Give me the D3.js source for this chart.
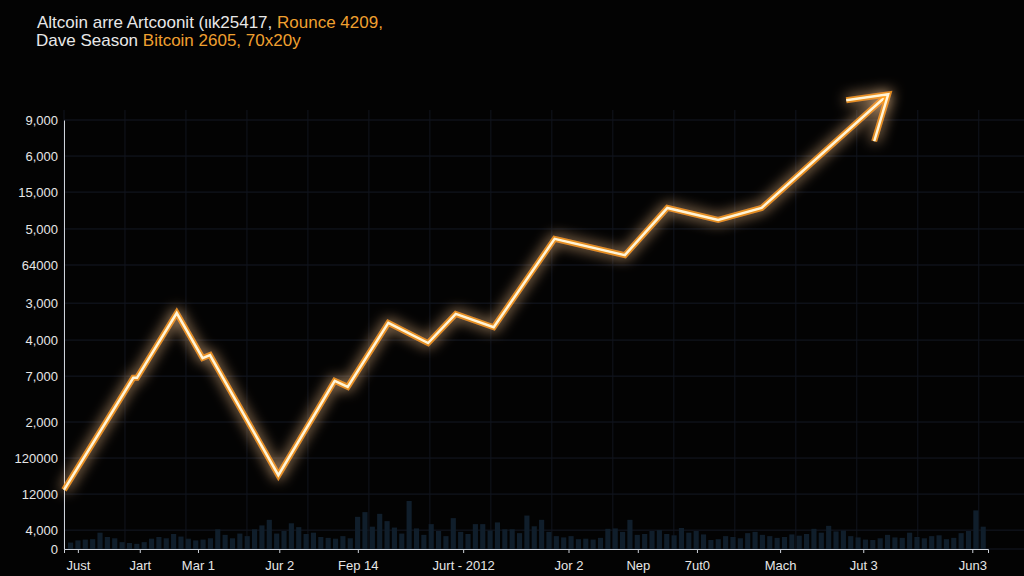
<!DOCTYPE html>
<html><head><meta charset="utf-8">
<script src="https://cdn.jsdelivr.net/npm/d3@7"></script>
<style>body{margin:0;background:#030303;}svg{display:block;font-family:"Liberation Sans",Arial,sans-serif;}</style>
</head><body><svg id="c" width="1024" height="576"></svg>
<script>
// y tick labels (as shown) and their positions in index units
const yLabels = ['9,000','6,000','15,000','5,000','64000','3,000','4,000','7,000','2,000','120000','12000','4,000','0'];
const yTicks = [100,91.6,83.2,74.6,66.2,57.3,48.7,40.3,29.6,21.2,12.8,4.4,0];
// x tick labels and positions
const xLabels = ['Just','Jart','Mar 1','Jur 2','Fep 14','Jurt - 2012','Jor 2','Nep','7ut0','Mach','Jut 3','Jun3'];
const xTicks = [1.5,8.2,14.5,23.3,31.8,43.2,54.6,62.1,68.5,77.5,86.5,98.3];
// price line
const lineX = [0,7.5,7.9,12.2,15.0,15.8,23.2,29.3,30.7,35.1,39.4,42.4,46.5,53.1,60.7,65.3,70.8,75.5,89.2];
const lineY = [13.8,39.9,39.9,55.0,44.5,45.2,17.2,39.2,37.8,52.7,48.0,54.8,51.7,72.3,68.5,79.5,76.7,79.5,106];
// volume bars
const vol = [1.5,2,2.2,2.3,3.8,2.8,2.5,1.6,1.4,1.2,1.6,2.4,2.8,2.5,3.5,2.9,2.4,2,2.2,2.5,4.6,3.3,2.5,3.6,3,4.6,5.5,6.8,3.6,4.2,6,5.1,3.5,3.8,2.8,2.6,2.4,3,2.5,7.5,8.6,5.2,8.2,6.5,5,3.6,11.2,4.8,3.3,5.8,4.2,3,7.2,4,3.5,5.8,5.8,4.3,6.2,4.6,4.6,3.7,7.8,5.3,6.8,4,3,2.7,3,2.3,2.4,2.2,2.6,4.7,4.8,4,6.8,3.3,3.5,4.2,4.4,3.5,3.2,4.9,3.8,4.2,3.4,2.1,2.3,3,2.8,2.5,3.7,4,3.3,3,2.6,2.8,3.4,3.1,3.5,4.7,3.8,5.4,4.1,4.3,3,2.7,2.2,2.1,2.5,3.3,2.7,2.6,3.8,2.8,2.5,3,3.2,2.3,2.6,3.7,4.2,9,5.2];

const svg = d3.select('#c');
const x = d3.scaleLinear().domain([0,100]).range([64,988]);
const y = d3.scaleLinear().domain([0,100]).range([549,120]);

const defs = svg.append('defs');
const f = defs.append('filter').attr('id','glow').attr('x','-20%').attr('y','-20%').attr('width','140%').attr('height','140%');
f.append('feGaussianBlur').attr('stdDeviation',7).attr('result','b');
const m = f.append('feMerge'); m.append('feMergeNode').attr('in','b'); m.append('feMergeNode').attr('in','SourceGraphic');

// grid
svg.append('g').selectAll('line').data(yTicks).join('line')
	.attr('x1',64).attr('x2',1024).attr('y1',d=>y(d)).attr('y2',d=>y(d))
	.attr('stroke','#141924').attr('stroke-width',1);
svg.append('g').selectAll('line').data(d3.range(0,101,6.6)).join('line')
	.attr('x1',d=>x(d)).attr('x2',d=>x(d)).attr('y1',110).attr('y2',549)
	.attr('stroke','#11151e').attr('stroke-width',1);

// volume
const bw = (988-68)/vol.length;
svg.append('g').selectAll('rect').data(vol).join('rect')
	.attr('x',(d,i)=>68+i*bw).attr('width',bw*0.7)
	.attr('y',d=>y(d)).attr('height',d=>y(0)-y(d))
	.attr('fill','#101e2b');

// axes
const yAx = svg.append('g').attr('transform','translate(64,0)')
	.call(d3.axisLeft(y).tickValues(yTicks).tickFormat((d,i)=>yLabels[i]).tickSize(0).tickPadding(6));
yAx.select('.domain').attr('stroke','#cfd3da');
yAx.selectAll('text').attr('fill','#e6e6e6').style('font-size','13px');
const xAx = svg.append('g').attr('transform','translate(0,549)')
	.call(d3.axisBottom(x).tickValues(xTicks).tickFormat((d,i)=>xLabels[i]).tickSize(4).tickPadding(8));
xAx.select('.domain').attr('stroke','#cfd3da');
xAx.selectAll('line').attr('stroke','#cfd3da');
xAx.selectAll('text').attr('fill','#e6e6e6').style('font-size','13px');

// line
const pts = lineX.map((d,i)=>[x(d),y(lineY[i])]);
const line = d3.line();
const g = svg.append('g').attr('filter','url(#glow)');
g.append('path').attr('d',line(pts)).attr('fill','none').attr('stroke','#ff9a10').attr('stroke-width',6).attr('stroke-opacity',0.85).attr('stroke-linejoin','miter');
g.append('path').attr('d',line(pts)).attr('fill','none').attr('stroke','#fff4d8').attr('stroke-width',2.5);
// arrow head
const tip = pts[pts.length-1];
const head = [[tip[0]-42,tip[1]+6],tip,[tip[0]-14,tip[1]+47]];
g.append('path').attr('d',line(head)).attr('fill','none').attr('stroke','#ff9a10').attr('stroke-width',6).attr('stroke-opacity',0.85);
g.append('path').attr('d',line(head)).attr('fill','none').attr('stroke','#fff4d8').attr('stroke-width',2.5);

// title
const t1 = svg.append('text').attr('x',37).attr('y',28).style('font-size','17px');
t1.append('tspan').attr('fill','#e8e8e8').text('Altcoin arre Artcoonit (ιιk25417, ');
t1.append('tspan').attr('fill','#f0a030').text('Rounce 4209,');
const t2 = svg.append('text').attr('x',36).attr('y',46).style('font-size','17px');
t2.append('tspan').attr('fill','#e8e8e8').text('Dave Season ');
t2.append('tspan').attr('fill','#f0a030').text('Bitcoin 2605, 70x20y');
</script></body></html>
